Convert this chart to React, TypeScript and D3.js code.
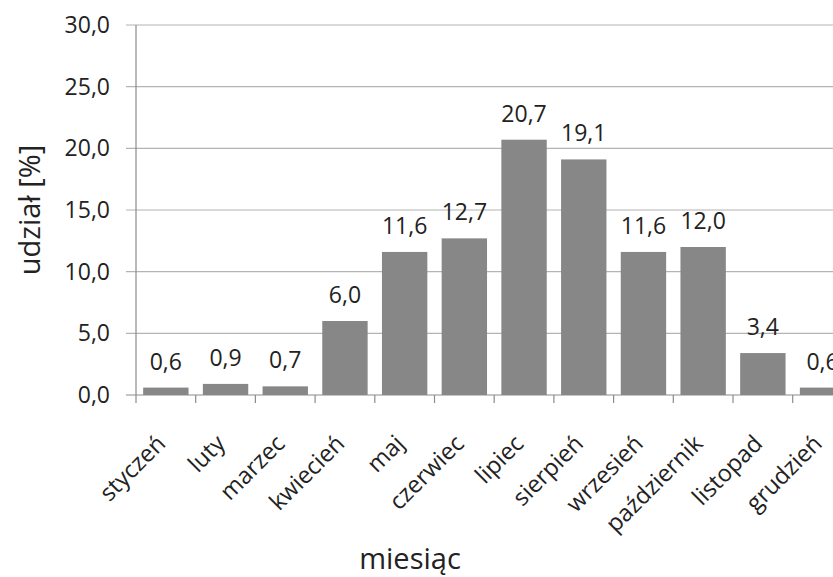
import React from "react";
import * as d3 from "d3";

const months = [
  "styczeń", "luty", "marzec", "kwiecień", "maj", "czerwiec",
  "lipiec", "sierpień", "wrzesień", "październik", "listopad", "grudzień",
];
const shares = [0.6, 0.9, 0.7, 6.0, 11.6, 12.7, 20.7, 19.1, 11.6, 12.0, 3.4, 0.6];
const yTicks = [0, 5, 10, 15, 20, 25, 30];

const W = 833;
const H = 577;
const plotLeft = 136;
const plotTop = 25;
const plotBottom = 395;
const step = 59.7;
const FONT = "'Open Sans', 'Noto Sans', sans-serif";

const fmt = (v: number) => v.toFixed(1).replace(".", ",");

export default function App() {
  const x = d3
    .scaleBand<string>()
    .domain(months)
    .range([plotLeft, plotLeft + step * months.length])
    .paddingInner(0.24)
    .paddingOuter(0.12);
  const y = d3.scaleLinear().domain([0, 30]).range([plotBottom, plotTop]);

  return (
    <svg
      width={W}
      height={H}
      style={{ position: "absolute", left: 0, top: 0, background: "#fff" }}
      fontFamily={FONT}
    >
      {/* horizontal gridlines */}
      {yTicks.map((t) => (
        <line
          key={"g" + t}
          x1={plotLeft - 10}
          x2={W}
          y1={y(t)}
          y2={y(t)}
          stroke={t === 0 ? "#8c8c8c" : "#b4b4b4"}
          strokeWidth={1.2}
        />
      ))}
      {/* y axis line */}
      <line x1={plotLeft} x2={plotLeft} y1={plotTop} y2={plotBottom} stroke="#8c8c8c" strokeWidth={1.2} />
      {/* y tick labels */}
      {yTicks.map((t) => (
        <text
          key={"yl" + t}
          x={plotLeft - 26}
          y={y(t)}
          dy="0.35em"
          textAnchor="end"
          fontSize={23}
          fill="#222"
        >
          {fmt(t)}
        </text>
      ))}
      {/* category boundary ticks */}
      {d3.range(months.length + 1).map((i) => (
        <line
          key={"t" + i}
          x1={plotLeft + i * x.step()}
          x2={plotLeft + i * x.step()}
          y1={plotBottom}
          y2={plotBottom + 8}
          stroke="#8c8c8c"
          strokeWidth={1.2}
        />
      ))}
      {/* bars */}
      {months.map((m, i) => (
        <rect
          key={"b" + m}
          x={x(m)}
          y={y(shares[i])}
          width={x.bandwidth()}
          height={plotBottom - y(shares[i])}
          fill="#878787"
        />
      ))}
      {/* value labels */}
      {months.map((m, i) => (
        <text
          key={"v" + m}
          x={(x(m) as number) + x.bandwidth() / 2}
          y={y(shares[i]) - 18}
          textAnchor="middle"
          fontSize={23}
          fill="#222"
        >
          {fmt(shares[i])}
        </text>
      ))}
      {/* rotated month labels */}
      {months.map((m) => {
        const cx = (x(m) as number) + x.bandwidth() / 2;
        return (
          <text
            key={"m" + m}
            transform={`translate(${cx + 1},${445}) rotate(-45)`}
            textAnchor="end"
            fontSize={23.5}
            fill="#222"
          >
            {m}
          </text>
        );
      })}
      {/* axis titles */}
      <text x={410} y={569} textAnchor="middle" fontSize={29} fill="#222">
        miesiąc
      </text>
      <text
        transform={`translate(40,${(plotTop + plotBottom) / 2}) rotate(-90)`}
        textAnchor="middle"
        fontSize={29}
        fill="#222"
      >
        udział [%]
      </text>
    </svg>
  );
}
